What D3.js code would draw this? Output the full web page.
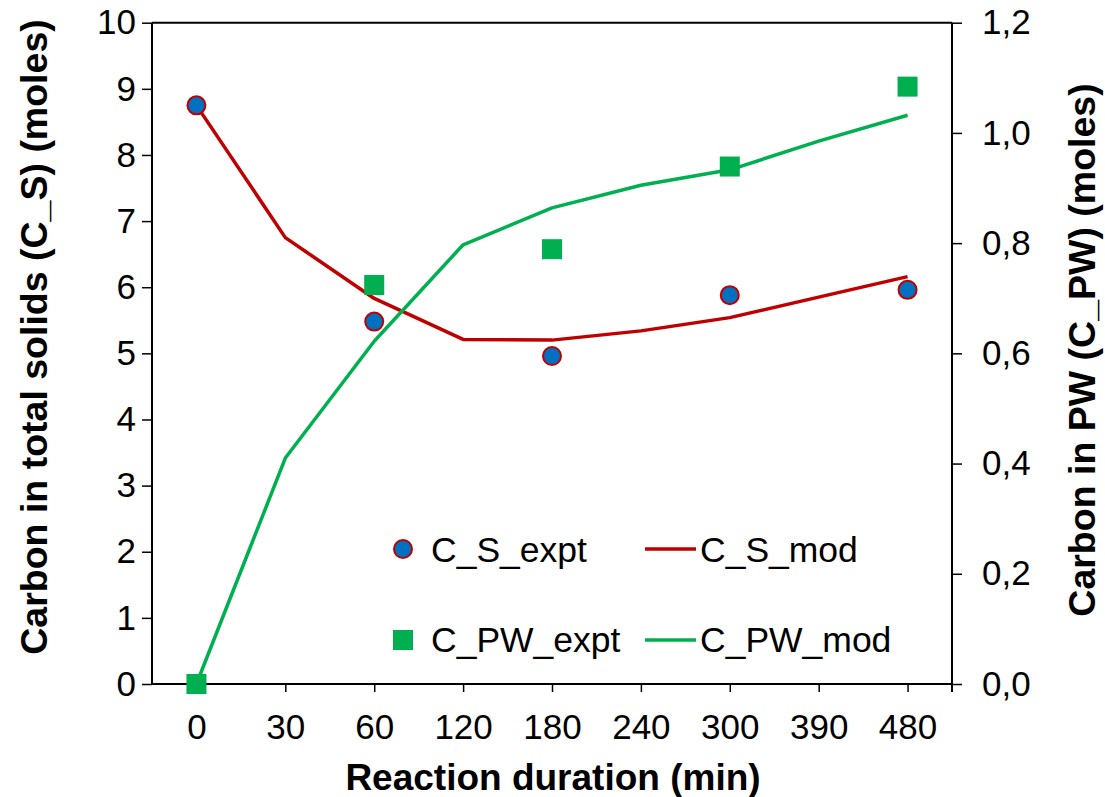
<!DOCTYPE html>
<html><head><meta charset="utf-8">
<script src="https://cdn.jsdelivr.net/npm/d3@7"></script>
<style>body{margin:0;background:#fff}svg{display:block}text{font-family:"Liberation Sans",Arial,sans-serif}</style>
</head><body>
<svg id="c" width="1105" height="797"></svg>
<script>
const categories = ["0","30","60","120","180","240","300","390","480"];
const csExptCats = ["0","60","180","300","480"];
const csExpt = [8.75, 5.48, 4.96, 5.88, 5.96];
const csMod = [8.75, 6.75, 5.83, 5.21, 5.20, 5.34, 5.54, 5.85, 6.16];
const cpwExptCats = ["0","60","180","300","480"];
const cpwExpt = [0.0, 0.724, 0.789, 0.939, 1.084];
const cpwMod = [0.0, 0.41, 0.622, 0.797, 0.864, 0.905, 0.933, 0.985, 1.032];
const leftTicks = [0,1,2,3,4,5,6,7,8,9,10];
const rightTicks = [0,0.2,0.4,0.6,0.8,1.0,1.2];
const xTitle = "Reaction duration (min)";
const yLeftTitle = "Carbon in total solids (C_S) (moles)";
const yRightTitle = "Carbon in PW (C_PW) (moles)";

const RED="#C00000", BLUE="#0070C0", GREEN="#00B050";
const L=152, R=952, T=22.7, B=684;
const svg=d3.select("#c");
const x=d3.scalePoint().domain(categories).range([L,R]).padding(0.5);
const yL=d3.scaleLinear().domain([0,10]).range([B,T]);
const yR=d3.scaleLinear().domain([0,1.2]).range([B,T]);

// frame
svg.append("line").attr("x1",L).attr("x2",R).attr("y1",T).attr("y2",T).attr("stroke","#000").attr("stroke-width",2);

const axL=svg.append("g").attr("transform",`translate(${L},0)`)
 .call(d3.axisLeft(yL).tickValues(leftTicks).tickSize(10).tickPadding(6).tickFormat(d3.format("d")));
const axR=svg.append("g").attr("transform",`translate(${R},0)`)
 .call(d3.axisRight(yR).tickValues(rightTicks).tickSize(10).tickPadding(20).tickFormat(d=>d3.format(".1f")(d).replace(".",",")));
const axB=svg.append("g").attr("transform",`translate(0,${B})`)
 .call(d3.axisBottom(x).tickSize(8).tickPadding(22));
svg.append("line").attr("x1",R).attr("x2",R).attr("y1",B).attr("y2",B+8).attr("stroke","#000").attr("stroke-width",2);
[axL,axR,axB].forEach(a=>{
  a.selectAll(".domain").attr("stroke","#000").attr("stroke-width",2);
  a.selectAll(".tick line").attr("stroke","#000").attr("stroke-width",1.5);
  a.selectAll("text").attr("fill","#000").style("font-size","35px").attr("font-family",null);
});
axL.select(".domain").attr("d",`M0,${B}V${T}`);
axR.select(".domain").attr("d",`M0,${B}V${T}`);
axB.select(".domain").attr("d",`M${L},0H${R}`);

// titles
svg.append("text").attr("transform",`translate(47,337) rotate(-90)`).attr("text-anchor","middle")
 .style("font-size","37.5px").style("font-weight","bold").text(yLeftTitle);
svg.append("text").attr("transform",`translate(1095,350) rotate(-90)`).attr("text-anchor","middle")
 .style("font-size","37.5px").style("font-weight","bold").text(yRightTitle);
svg.append("text").attr("x",553).attr("y",790).attr("text-anchor","middle")
 .style("font-size","37px").style("font-weight","bold").text(xTitle);

// model lines
const lineL=d3.line().x((d,i)=>x(categories[i])).y(d=>yL(d));
const lineR=d3.line().x((d,i)=>x(categories[i])).y(d=>yR(d));
svg.append("path").attr("d",lineL(csMod)).attr("fill","none").attr("stroke",RED).attr("stroke-width",3.5).attr("stroke-linejoin","round");
svg.append("path").attr("d",lineR(cpwMod)).attr("fill","none").attr("stroke",GREEN).attr("stroke-width",3.5).attr("stroke-linejoin","round");

// markers
const S=20;
svg.append("g").selectAll("rect").data(cpwExpt).join("rect")
 .attr("x",(d,i)=>x(cpwExptCats[i])-S/2).attr("y",d=>yR(d)-S/2).attr("width",S).attr("height",S).attr("fill",GREEN);
svg.append("g").selectAll("circle").data(csExpt).join("circle")
 .attr("cx",(d,i)=>x(csExptCats[i])).attr("cy",d=>yL(d)).attr("r",9).attr("fill",BLUE).attr("stroke",RED).attr("stroke-width",2);

// legend
const lg=svg.append("g");
lg.append("circle").attr("cx",403).attr("cy",549).attr("r",9).attr("fill",BLUE).attr("stroke",RED).attr("stroke-width",2);
lg.append("text").attr("x",431).attr("y",562).style("font-size","35.5px").text("C_S_expt");
lg.append("line").attr("x1",645).attr("x2",696).attr("y1",549).attr("y2",549).attr("stroke",RED).attr("stroke-width",3.5);
lg.append("text").attr("x",700).attr("y",562).style("font-size","35.5px").text("C_S_mod");
lg.append("rect").attr("x",403-S/2).attr("y",640-S/2).attr("width",S).attr("height",S).attr("fill",GREEN);
lg.append("text").attr("x",431).attr("y",652).style("font-size","35.5px").text("C_PW_expt");
lg.append("line").attr("x1",645).attr("x2",696).attr("y1",640).attr("y2",640).attr("stroke",GREEN).attr("stroke-width",3.5);
lg.append("text").attr("x",700).attr("y",652).style("font-size","35.5px").text("C_PW_mod");
</script>
</body></html>
